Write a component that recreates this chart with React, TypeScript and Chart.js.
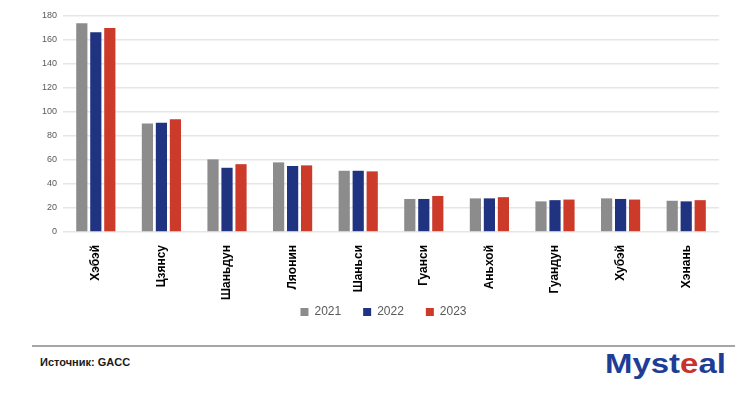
import React, { useEffect, useRef } from "react";
import { Chart, registerables } from "chart.js";

Chart.register(...registerables);

const categories = ["Хэбэй", "Цзянсу", "Шаньдун", "Ляонин", "Шаньси", "Гуанси", "Аньхой", "Гуандун", "Хубэй", "Хэнань"];
const values2021 = [174, 90.5, 60.5, 58, 51, 27.5, 28, 25.5, 28, 26];
const values2022 = [166.5, 91, 53.5, 55, 51, 27.5, 28, 26.5, 27.5, 25.5];
const values2023 = [170, 94, 56.5, 55.5, 50.5, 30, 29, 27, 27, 26.5];
const seriesLabels = ["2021", "2022", "2023"];
const yTicksMax = 180;
const yStep = 20;

const COLORS = ["#8c8c8c", "#1f3380", "#cc3a2a"];

// shifts the legend (drawn by Chart.js) so it sits as in the reference
const legendShift = {
  id: "legendShift",
  afterLayout(chart: any) {
    const lg = chart.legend;
    if (!lg) return;
    lg.top -= 21;
    lg.bottom -= 21;
    lg.left += 6;
    lg.right += 6;
  },
};

export default function App() {
  const ref = useRef<HTMLCanvasElement | null>(null);
  useEffect(() => {
    if (!ref.current) return;
    const chart = new Chart(ref.current, {
      type: "bar",
      data: {
        labels: categories,
        datasets: [values2021, values2022, values2023].map((d, i) => ({
          label: seriesLabels[i],
          data: d,
          backgroundColor: COLORS[i],
          borderWidth: 0,
          barPercentage: 0.8,
          categoryPercentage: 0.64,
        })),
      },
      options: {
        animation: false,
        responsive: false,
        maintainAspectRatio: false,
        layout: { padding: { top: 16, right: 33, left: 36, bottom: 0 } },
        plugins: {
          tooltip: { enabled: false },
          legend: {
            position: "bottom",
            labels: {
              boxWidth: 8,
              boxHeight: 8,
              padding: 22,
              color: "#595959",
              font: { family: "Liberation Sans", size: 12 },
            },
          },
        },
        scales: {
          x: {
            grid: { display: false },
            border: { display: false },
            ticks: {
              minRotation: 90,
              maxRotation: 90,
              color: "#000000",
              padding: 5,
              font: { family: "Liberation Sans", size: 12, weight: "bold" },
            },
          },
          y: {
            min: 0,
            max: yTicksMax,
            ticks: {
              stepSize: yStep,
              color: "#595959",
              padding: 6,
              font: { family: "Liberation Sans", size: 9 },
            },
            grid: { color: "#e6e6e6", lineWidth: 1.5, drawTicks: false },
            border: { display: false },
          },
        },
      },
      plugins: [legendShift],
    });
    return () => chart.destroy();
  }, []);

  return (
    <div style={{ position: "absolute", left: 0, top: 0, width: 752, height: 413, background: "#fff", fontFamily: "Liberation Sans" }}>
      <canvas ref={ref} width={752} height={349} style={{ position: "absolute", left: 0, top: 0, width: 752, height: 349 }} />
      <div style={{ position: "absolute", left: 32, top: 345, width: 703, height: 2, background: "#a6a6a6" }} />
      <div style={{ position: "absolute", left: 40, top: 356, fontSize: 11, fontWeight: "bold", color: "#1a1a1a" }}>Источник: GACC</div>
      <div style={{ position: "absolute", left: 605, top: 349, fontSize: 27, fontWeight: "bold", color: "#1e3d96", whiteSpace: "nowrap", transform: "scaleX(1.22)", transformOrigin: "left top", fontFamily: "Liberation Sans" }}>
        Myst<span style={{ color: "#c8322a" }}>e</span>al
      </div>
    </div>
  );
}
